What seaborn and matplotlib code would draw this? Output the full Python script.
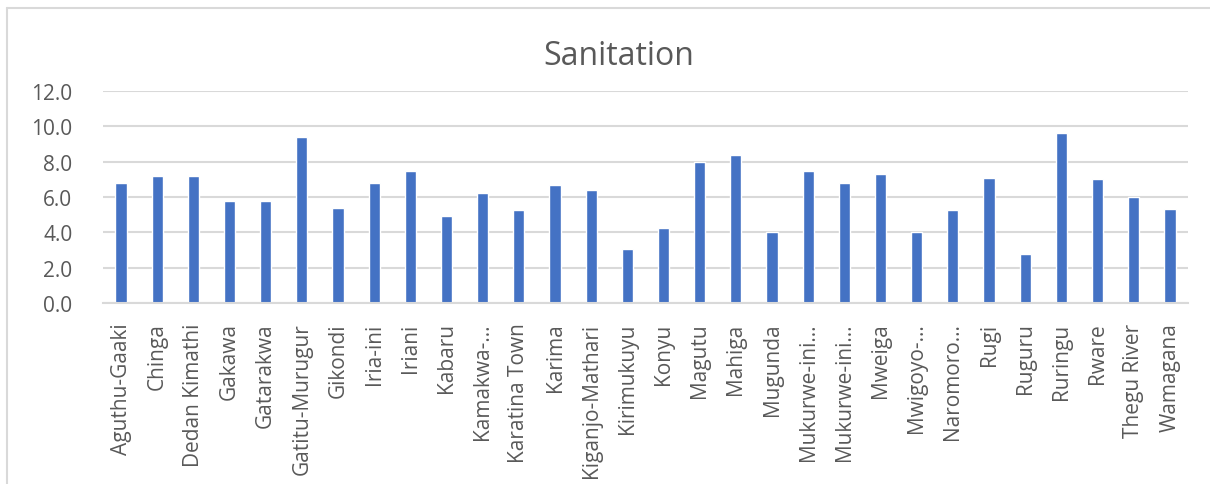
import matplotlib
matplotlib.use("Agg")
import matplotlib.pyplot as plt
from matplotlib.lines import Line2D
import seaborn as sns
import pandas as pd

wards = [
    "Aguthu-Gaaki", "Chinga", "Dedan Kimathi", "Gakawa", "Gatarakwa",
    "Gatitu-Murugur", "Gikondi", "Iria-ini", "Iriani", "Kabaru",
    "Kamakwa-…", "Karatina Town", "Karima", "Kiganjo-Mathari", "Kirimukuyu",
    "Konyu", "Magutu", "Mahiga", "Mugunda", "Mukurwe-ini…",
    "Mukurwe-ini…", "Mweiga", "Mwigoyo-…", "Naromoro…", "Rugi",
    "Ruguru", "Ruringu", "Rware", "Thegu River", "Wamagana",
]
sanitation = [
    6.8, 7.2, 7.2, 5.75, 5.8,
    9.4, 5.4, 6.8, 7.45, 4.9,
    6.2, 5.25, 6.7, 6.4, 3.05,
    4.25, 8.0, 8.35, 4.0, 7.45,
    6.8, 7.3, 4.0, 5.25, 7.1,
    2.8, 9.65, 7.0, 6.0, 5.3,
]
y_ticks = [0, 2, 4, 6, 8, 10, 12]

sns.set_theme(style="white")
plt.rcParams["font.family"] = ["Open Sans", "DejaVu Sans"]

text_color = "#595959"
grid_color = "#D9D9D9"
bar_color = "#4472C4"

df = pd.DataFrame({"slot": list(range(len(wards))), "value": sanitation})

fig = plt.figure(figsize=(12.1, 4.85), dpi=100)
ax = fig.add_axes([0.0851, 0.3732, 0.8967, 0.4371])

sns.barplot(data=df, x="slot", y="value", color=bar_color, width=0.31,
            saturation=1, ax=ax, zorder=3)

ax.set_xlim(-0.5, len(wards) - 0.5)
ax.set_ylim(0, 12)
ax.set_yticks(y_ticks)
ax.set_yticklabels([f"{v:.1f}" for v in y_ticks])
ax.set_xticks(range(len(wards)))
ax.set_xticklabels(wards, rotation=90)

ax.yaxis.grid(True, color=grid_color, linewidth=1.5, zorder=0)
ax.xaxis.grid(False)
for side in ["top", "right", "left"]:
    ax.spines[side].set_visible(False)
ax.spines["bottom"].set_color(grid_color)
ax.spines["bottom"].set_linewidth(1.5)
ax.spines["bottom"].set_zorder(4)

ax.tick_params(axis="y", length=0, pad=22, labelsize=15, labelcolor=text_color)
ax.tick_params(axis="x", length=0, pad=14, labelsize=15, labelcolor=text_color)
ax.set_xlabel("")
ax.set_ylabel("")

fig.text(0.511, 0.866, "Sanitation", ha="center", va="baseline",
         fontsize=23, color=text_color)

# chart-area frame (top and left edges)
frame_color = "#D9D9D9"
fig.add_artist(Line2D([7 / 1210, 1.0], [1 - 9 / 485, 1 - 9 / 485],
                      transform=fig.transFigure, color=frame_color, linewidth=1.5))
fig.add_artist(Line2D([7 / 1210, 7 / 1210], [0.0, 1 - 9 / 485],
                      transform=fig.transFigure, color=frame_color, linewidth=1.5))

fig.savefig("out.png", dpi=100, facecolor="white")
